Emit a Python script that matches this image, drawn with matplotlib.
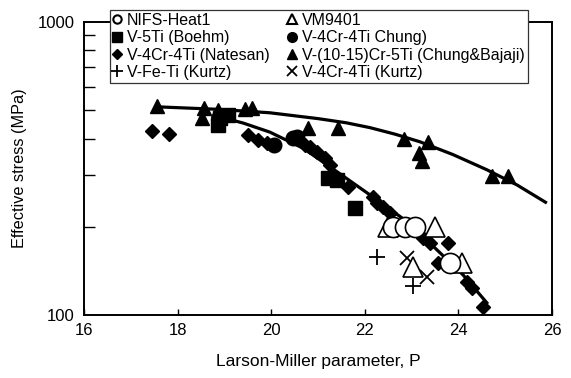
import matplotlib
matplotlib.use("Agg")
import matplotlib.pyplot as plt
from matplotlib.lines import Line2D
from matplotlib.ticker import LogLocator, NullFormatter, FixedLocator, FuncFormatter

plt.rcParams['font.family'] = ['Liberation Sans', 'DejaVu Sans']

# ---- data (Larson-Miller parameter P, effective stress MPa) ----
nifs_p = [22.60, 22.86, 23.07, 23.82]
nifs_s = [200, 200, 200, 150]

vm_p = [22.50, 23.50, 23.03, 24.08]
vm_s = [200, 200, 146, 150]

boehm_p = [18.86, 18.91, 19.08, 21.21, 21.40, 21.79]
boehm_s = [445, 470, 482, 293, 290, 232]

chung_p = [20.06, 20.47, 20.55]
chung_s = [380, 402, 404]

natesan_p = [17.45, 17.82, 19.50, 19.72, 19.91, 20.72, 20.83, 20.98, 21.15,
             21.26, 21.64, 22.18, 22.26, 22.39, 22.54, 23.24, 23.39, 23.78,
             23.56, 24.18, 24.29, 24.53]
natesan_s = [425, 415, 412, 396, 387, 380, 374, 360, 343,
             325, 273, 253, 241, 234, 223, 183, 176, 176,
             150, 130, 124, 106.5]

cb_p = [17.56, 18.56, 18.86, 18.52, 19.44, 19.59, 20.79, 21.43, 22.84,
        23.35, 23.16, 23.22, 24.72, 25.06]
cb_s = [517, 509, 501, 470, 505, 509, 435, 435, 399,
        389, 357, 335, 298, 298]

feti_p = [22.26, 23.03]
feti_s = [158, 126]

kurtz_p = [22.90, 23.33]
kurtz_s = [156, 135]

# fitted trend curves
upper_p = [17.62, 18.8, 19.97, 21.0, 21.6, 22.11, 22.65, 23.18, 23.88, 24.61, 25.25, 25.89]
upper_s = [513, 504, 490, 468, 453, 436, 414, 390, 353, 313, 278, 241]

lower_p = [19.0, 19.4, 19.97, 20.68, 21.41, 22.11, 22.82, 23.39, 24.10, 24.63]
lower_s = [470, 452, 421, 371, 308, 257, 213, 176, 137, 109]

legend_labels = ['NIFS-Heat1', 'V-5Ti (Boehm)', 'V-4Cr-4Ti (Natesan)', 'V-Fe-Ti (Kurtz)',
                 'VM9401', 'V-4Cr-4Ti Chung)', 'V-(10-15)Cr-5Ti (Chung&Bajaji)',
                 'V-4Cr-4Ti (Kurtz)']

fig = plt.figure(figsize=(5.71, 3.78), dpi=100)
ax = fig.add_axes([84/571, 1-315/378, (552-84)/571, (315-22)/378])

ax.plot(upper_p, upper_s, color='black', lw=2.3, zorder=2, solid_capstyle='butt')
ax.plot(lower_p, lower_s, color='black', lw=2.3, zorder=2, solid_capstyle='butt')

ax.plot(cb_p, cb_s, '^', color='black', ms=10.5, mec='black', ls='none', zorder=3)
ax.plot(boehm_p, boehm_s, 's', color='black', ms=10.5, ls='none', zorder=3)
ax.plot(natesan_p, natesan_s, 'D', color='black', ms=7.5, ls='none', zorder=3)
ax.plot(chung_p, chung_s, 'o', color='black', ms=10.5, ls='none', zorder=3)
ax.plot(feti_p, feti_s, '+', color='black', ms=11, mew=1.3, ls='none', zorder=4)
ax.plot(kurtz_p, kurtz_s, 'x', color='black', ms=10, mew=1.3, ls='none', zorder=4)
ax.plot(vm_p, vm_s, '^', mfc='white', mec='black', mew=1.2, ms=14, ls='none', zorder=5)
ax.plot(nifs_p, nifs_s, 'o', mfc='white', mec='black', mew=1.2, ms=14.5, ls='none', zorder=5)

ax.set_yscale('log')
ax.set_xlim(16, 26)
ax.set_ylim(100, 1000)
ax.xaxis.set_major_locator(FixedLocator([16, 18, 20, 22, 24, 26]))
ax.yaxis.set_major_locator(FixedLocator([100, 1000]))
ax.yaxis.set_major_formatter(FuncFormatter(lambda v, pos: f"{int(round(v))}"))
ax.yaxis.set_minor_locator(LogLocator(base=10, subs=range(2, 10)))
ax.yaxis.set_minor_formatter(NullFormatter())

ax.tick_params(axis='x', which='major', direction='in', length=4, width=1,
               labelsize=12, pad=6, top=False)
ax.tick_params(axis='y', which='major', direction='in', length=0, width=1,
               labelsize=12, pad=6.5, right=False)
ax.tick_params(axis='y', which='minor', direction='in', length=8, width=1, right=False)

for sp in ax.spines.values():
    sp.set_linewidth(1.4)

ax.set_xlabel('Larson-Miller parameter, P', fontsize=12.5, labelpad=11)
ax.set_ylabel('Effective stress (MPa)', fontsize=11.7, labelpad=8)

# legend
def h(marker, filled=True, ms=7, mew=1.0):
    if filled:
        return Line2D([], [], marker=marker, color='black', ls='none', ms=ms, mew=mew)
    return Line2D([], [], marker=marker, mfc='white', mec='black', ls='none', ms=ms, mew=mew)

handles = [h('o', False, 6, 1.5), h('s', True, 6.5), h('D', True, 5.5), h('+', True, 8, 1.3),
           h('^', False, 7, 1.5), h('o', True, 7), h('^', True, 7.5), h('x', True, 7, 1.3)]

leg = fig.legend(handles, legend_labels, ncol=2,
                 bbox_to_anchor=(110/571, 1-10/378),
                 loc='upper left', fontsize=11.5, frameon=True,
                 fancybox=False, edgecolor='#333333', framealpha=1,
                 handlelength=0.55, handletextpad=0.35, labelspacing=0.15,
                 borderpad=0.18, borderaxespad=0, columnspacing=1.1)
leg.get_frame().set_linewidth(0.9)
leg.set_zorder(10)

fig.savefig('out.png', dpi=100)
